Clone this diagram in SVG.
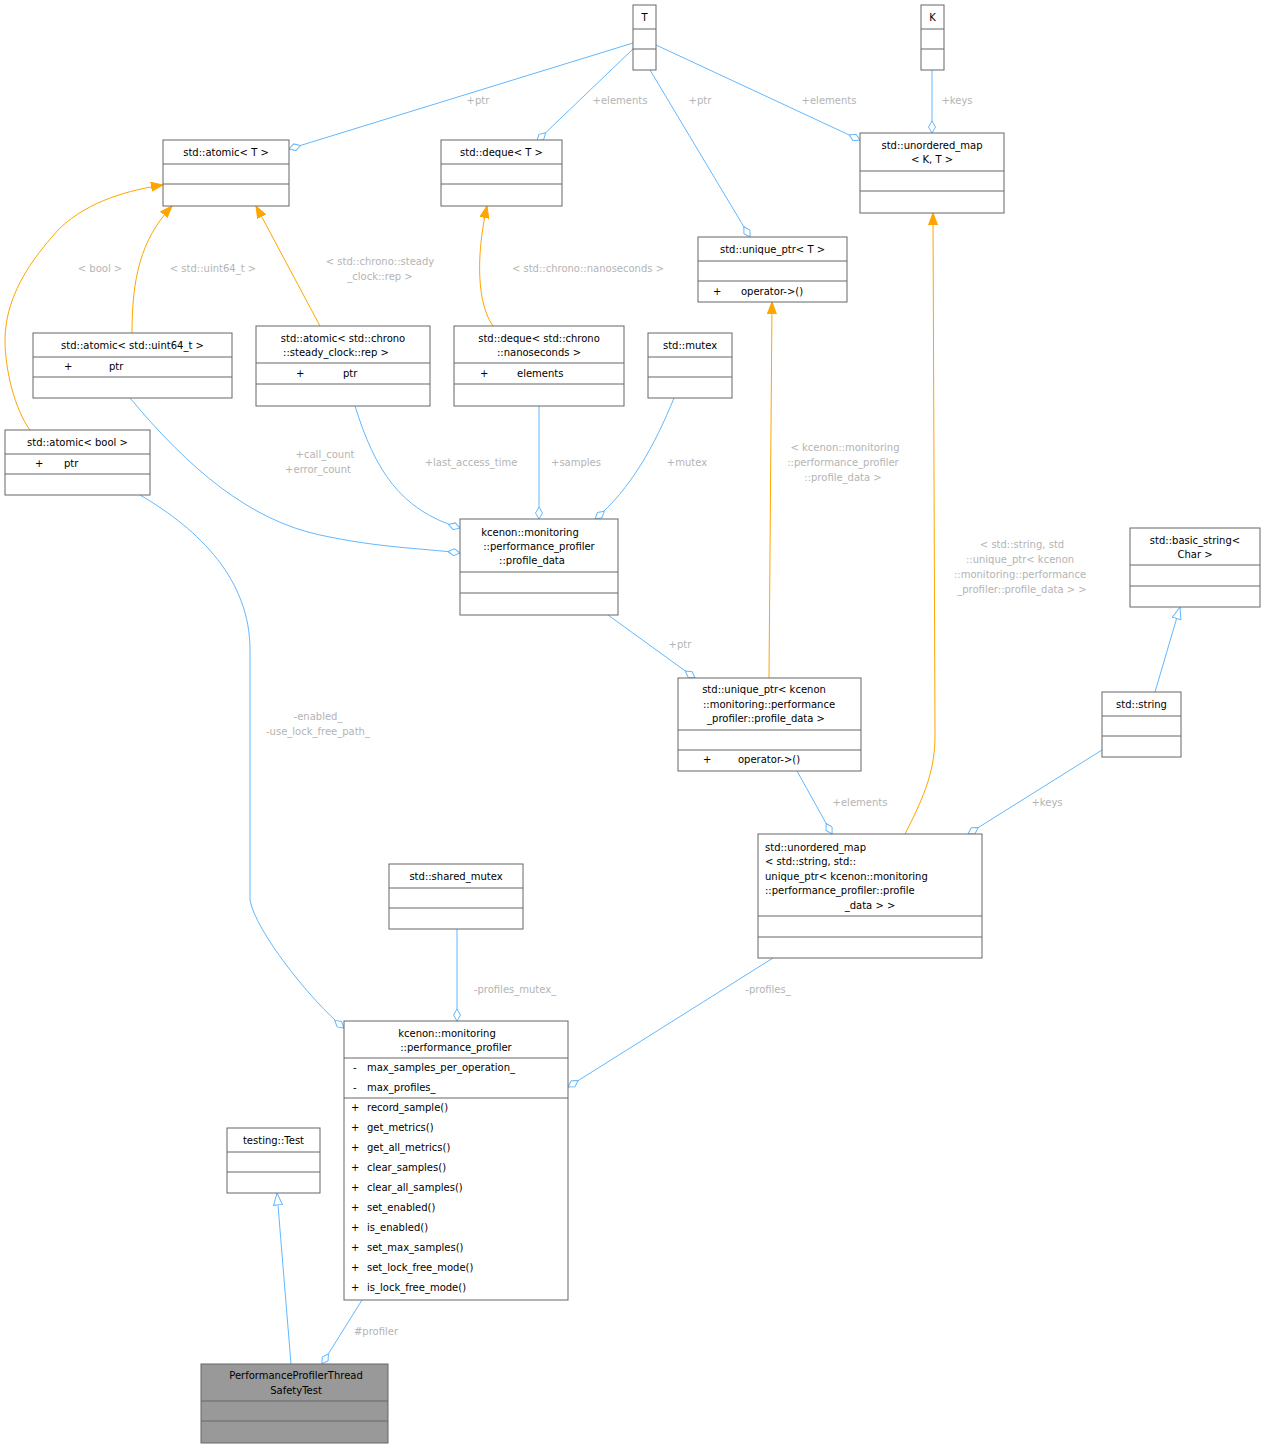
<svg xmlns="http://www.w3.org/2000/svg" width="1266" height="1449" viewBox="0 0 1266 1449">
<style>
text{font-family:"DejaVu Sans","Liberation Sans",sans-serif;font-size:10px;fill:#000}
.n rect{fill:#fff;stroke:#666;stroke-width:1}
.n line{stroke:#666;stroke-width:1}
.c{text-anchor:middle}
.l{fill:#b4b4b4;text-anchor:middle}
.e{fill:none;stroke:#63b8ff;stroke-width:1}
.o{fill:none;stroke:#ffa500;stroke-width:1}
.d{marker-end:url(#dia)}
.ot{marker-end:url(#otri)}
.ht{marker-end:url(#htri)}
</style>
<defs>
<marker id="dia" viewBox="0 0 13 8" refX="12.5" refY="4" markerWidth="13" markerHeight="8" markerUnits="userSpaceOnUse" orient="auto"><path d="M0.5,4 L6.5,0.5 L12.5,4 L6.5,7.5 Z" fill="#fff" stroke="#63b8ff"/></marker>
<marker id="otri" viewBox="0 0 12 10" refX="12" refY="5" markerWidth="12" markerHeight="10" markerUnits="userSpaceOnUse" orient="auto"><path d="M0,0.5 L12,5 L0,9.5 Z" fill="#ffa500" stroke="#ffa500"/></marker>
<marker id="htri" viewBox="0 0 13 10" refX="12.5" refY="5" markerWidth="13" markerHeight="10" markerUnits="userSpaceOnUse" orient="auto"><path d="M0.5,0.5 L12.5,5 L0.5,9.5 Z" fill="#fff" stroke="#63b8ff"/></marker>
</defs>
<rect width="1266" height="1449" fill="#fff"/>
<g id="edges">
<path class="e d" d="M633,43 L289,149"/><text class="l" x="478" y="104">+ptr</text>
<path class="e d" d="M633,49 L537,141"/><text class="l" x="620" y="104">+elements</text>
<path class="e d" d="M650,70 L750,237"/><text class="l" x="700" y="104">+ptr</text>
<path class="e d" d="M656,45 L860,140"/><text class="l" x="829" y="104">+elements</text>
<path class="e d" d="M932,70 L932,133"/><text class="l" x="957" y="104">+keys</text>
<path class="o ot" d="M132,333 C132,280 140,240 172,206"/><text class="l" x="213" y="272">&lt; std::uint64_t &gt;</text>
<path class="o ot" d="M30,430 C15,410 5,370 5,340 C5,290 40,250 60,228 C90,200 130,190 163,185"/><text class="l" x="100" y="272">&lt; bool &gt;</text>
<path class="o ot" d="M320,326 L256,206"/><text class="l" x="380" y="265">&lt; std::chrono::steady</text><text class="l" x="380" y="280">_clock::rep &gt;</text>
<path class="o ot" d="M493,326 C478,305 475,260 487,206"/><text class="l" x="588" y="272">&lt; std::chrono::nanoseconds &gt;</text>
<path class="o ot" d="M769,678 L772,302"/><text class="l" x="845" y="451">&lt; kcenon::monitoring</text><text class="l" x="843" y="466">::performance_profiler</text><text class="l" x="843" y="481">::profile_data &gt;</text>
<path class="o ot" d="M905,834 C925,795 935,770 935,735 L933,213"/><text class="l" x="1022" y="548">&lt; std::string, std</text><text class="l" x="1020" y="563">::unique_ptr&lt; kcenon</text><text class="l" x="1020" y="578">::monitoring::performance</text><text class="l" x="1022" y="593">_profiler::profile_data &gt; &gt;</text>
<path class="e d" d="M130,398 C190,470 250,520 320,535 C380,548 420,548 460,553"/><text class="l" x="325" y="458">+call_count</text><text class="l" x="318" y="473">+error_count</text>
<path class="e d" d="M355,406 C375,470 400,510 460,528"/><text class="l" x="471" y="466">+last_access_time</text>
<path class="e d" d="M539,406 L539,519"/><text class="l" x="576" y="466">+samples</text>
<path class="e d" d="M674,398 C655,445 630,490 595,519"/><text class="l" x="687" y="466">+mutex</text>
<path class="e d" d="M608,615 L695,678"/><text class="l" x="680" y="648">+ptr</text>
<path class="e d" d="M797,771 L832,834"/><text class="l" x="860" y="806">+elements</text>
<path class="e d" d="M1102,750 L968,834"/><text class="l" x="1047" y="806">+keys</text>
<path class="e ht" d="M1155,692 L1180,607"/>
<path class="e d" d="M140,495 C200,530 250,580 250,650 L250,900 C255,930 310,1000 344,1028"/><text class="l" x="318" y="720">-enabled_</text><text class="l" x="318" y="735">-use_lock_free_path_</text>
<path class="e d" d="M457,929 L457,1021"/><text class="l" x="515" y="993">-profiles_mutex_</text>
<path class="e d" d="M773,958 L568,1087"/><text class="l" x="768" y="993">-profiles_</text>
<path class="e d" d="M362,1300 L322,1364"/><text class="l" x="376" y="1335">#profiler</text>
<path class="e ht" d="M291,1364 L277,1193"/>
</g>
<g id="nT" class="n"><rect x="633" y="5" width="23" height="65"/><line x1="633" y1="29" x2="656" y2="29"/><line x1="633" y1="49" x2="656" y2="49"/><text class="c" x="644.5" y="21">T</text></g>
<g id="nK" class="n"><rect x="921" y="5" width="23" height="65"/><line x1="921" y1="29" x2="944" y2="29"/><line x1="921" y1="49" x2="944" y2="49"/><text class="c" x="932.5" y="21">K</text></g>
<g id="nAtomicT" class="n"><rect x="163" y="140" width="126" height="66"/><line x1="163" y1="164" x2="289" y2="164"/><line x1="163" y1="184" x2="289" y2="184"/><text class="c" x="226" y="156">std::atomic&lt; T &gt;</text></g>
<g id="nDequeT" class="n"><rect x="441" y="140" width="121" height="66"/><line x1="441" y1="164" x2="562" y2="164"/><line x1="441" y1="184" x2="562" y2="184"/><text class="c" x="501.5" y="156">std::deque&lt; T &gt;</text></g>
<g id="nUMapKT" class="n"><rect x="860" y="133" width="144" height="80"/><line x1="860" y1="171" x2="1004" y2="171"/><line x1="860" y1="191" x2="1004" y2="191"/><text class="c" x="932" y="149">std::unordered_map</text><text class="c" x="932" y="163">&lt; K, T &gt;</text></g>
<g id="nUPtrT" class="n"><rect x="698" y="237" width="149" height="65"/><line x1="698" y1="261" x2="847" y2="261"/><line x1="698" y1="281" x2="847" y2="281"/><text class="c" x="772.5" y="253">std::unique_ptr&lt; T &gt;</text><text x="713" y="295">+</text><text x="741" y="295">operator-&gt;()</text></g>
<g id="nAtomicU64" class="n"><rect x="33" y="333" width="199" height="65"/><line x1="33" y1="357" x2="232" y2="357"/><line x1="33" y1="377" x2="232" y2="377"/><text class="c" x="132.5" y="349">std::atomic&lt; std::uint64_t &gt;</text><text x="64" y="370">+</text><text x="109" y="370">ptr</text></g>
<g id="nAtomicRep" class="n"><rect x="256" y="326" width="174" height="80"/><line x1="256" y1="363" x2="430" y2="363"/><line x1="256" y1="384" x2="430" y2="384"/><text class="c" x="343" y="342">std::atomic&lt; std::chrono</text><text class="c" x="336" y="356">::steady_clock::rep &gt;</text><text x="241" y="377" dx="55">+</text><text x="281" y="377" dx="62">ptr</text></g>
<g id="nDequeNs" class="n"><rect x="454" y="326" width="170" height="80"/><line x1="454" y1="363" x2="624" y2="363"/><line x1="454" y1="384" x2="624" y2="384"/><text class="c" x="539" y="342">std::deque&lt; std::chrono</text><text class="c" x="539" y="356">::nanoseconds &gt;</text><text x="480" y="377">+</text><text x="517" y="377">elements</text></g>
<g id="nMutex" class="n"><rect x="648" y="333" width="84" height="65"/><line x1="648" y1="357" x2="732" y2="357"/><line x1="648" y1="377" x2="732" y2="377"/><text class="c" x="690" y="349">std::mutex</text></g>
<g id="nAtomicBool" class="n"><rect x="5" y="430" width="145" height="65"/><line x1="5" y1="454" x2="150" y2="454"/><line x1="5" y1="474" x2="150" y2="474"/><text class="c" x="77.5" y="446">std::atomic&lt; bool &gt;</text><text x="35" y="467">+</text><text x="64" y="467">ptr</text></g>
<g id="nProfileData" class="n"><rect x="460" y="519" width="158" height="96"/><line x1="460" y1="572" x2="618" y2="572"/><line x1="460" y1="593" x2="618" y2="593"/><text class="c" x="530" y="536">kcenon::monitoring</text><text class="c" x="539" y="550">::performance_profiler</text><text class="c" x="532" y="564">::profile_data</text></g>
<g id="nBasicString" class="n"><rect x="1130" y="528" width="130" height="79"/><line x1="1130" y1="565" x2="1260" y2="565"/><line x1="1130" y1="586" x2="1260" y2="586"/><text class="c" x="1195" y="544">std::basic_string&lt;</text><text class="c" x="1195" y="558">Char &gt;</text></g>
<g id="nUPtrPD" class="n"><rect x="678" y="678" width="183" height="93"/><line x1="678" y1="730" x2="861" y2="730"/><line x1="678" y1="750" x2="861" y2="750"/><text class="c" x="764" y="693">std::unique_ptr&lt; kcenon</text><text class="c" x="769" y="708">::monitoring::performance</text><text class="c" x="766" y="722">_profiler::profile_data &gt;</text><text x="703" y="763">+</text><text x="738" y="763">operator-&gt;()</text></g>
<g id="nString" class="n"><rect x="1102" y="692" width="79" height="65"/><line x1="1102" y1="716" x2="1181" y2="716"/><line x1="1102" y1="736" x2="1181" y2="736"/><text class="c" x="1141.5" y="708">std::string</text></g>
<g id="nUMapStr" class="n"><rect x="758" y="834" width="224" height="124"/><line x1="758" y1="916" x2="982" y2="916"/><line x1="758" y1="937" x2="982" y2="937"/><text x="765" y="851">std::unordered_map</text><text x="765" y="865">&lt; std::string, std::</text><text x="765" y="880">unique_ptr&lt; kcenon::monitoring</text><text x="765" y="894">::performance_profiler::profile</text><text class="c" x="870" y="909">_data &gt; &gt;</text></g>
<g id="nSharedMutex" class="n"><rect x="389" y="864" width="134" height="65"/><line x1="389" y1="888" x2="523" y2="888"/><line x1="389" y1="908" x2="523" y2="908"/><text class="c" x="456" y="880">std::shared_mutex</text></g>
<g id="nProfiler" class="n"><rect x="344" y="1021" width="224" height="279"/><line x1="344" y1="1058" x2="568" y2="1058"/><line x1="344" y1="1098" x2="568" y2="1098"/>
<text class="c" x="447" y="1037">kcenon::monitoring</text><text class="c" x="456" y="1051">::performance_profiler</text>
<text x="353" y="1071">-</text><text x="367" y="1071">max_samples_per_operation_</text>
<text x="353" y="1091">-</text><text x="367" y="1091">max_profiles_</text>
<text x="351" y="1111">+</text><text x="367" y="1111">record_sample()</text>
<text x="351" y="1131">+</text><text x="367" y="1131">get_metrics()</text>
<text x="351" y="1151">+</text><text x="367" y="1151">get_all_metrics()</text>
<text x="351" y="1171">+</text><text x="367" y="1171">clear_samples()</text>
<text x="351" y="1191">+</text><text x="367" y="1191">clear_all_samples()</text>
<text x="351" y="1211">+</text><text x="367" y="1211">set_enabled()</text>
<text x="351" y="1231">+</text><text x="367" y="1231">is_enabled()</text>
<text x="351" y="1251">+</text><text x="367" y="1251">set_max_samples()</text>
<text x="351" y="1271">+</text><text x="367" y="1271">set_lock_free_mode()</text>
<text x="351" y="1291">+</text><text x="367" y="1291">is_lock_free_mode()</text></g>
<g id="nTest" class="n"><rect x="227" y="1128" width="93" height="65"/><line x1="227" y1="1152" x2="320" y2="1152"/><line x1="227" y1="1172" x2="320" y2="1172"/><text class="c" x="273.5" y="1144">testing::Test</text></g>
<g id="nPPTST" class="n"><rect x="201" y="1364" width="187" height="79" style="fill:#999"/><line x1="201" y1="1401" x2="388" y2="1401"/><line x1="201" y1="1421" x2="388" y2="1421"/><text class="c" x="296" y="1379">PerformanceProfilerThread</text><text class="c" x="296" y="1394">SafetyTest</text></g>
</svg>
